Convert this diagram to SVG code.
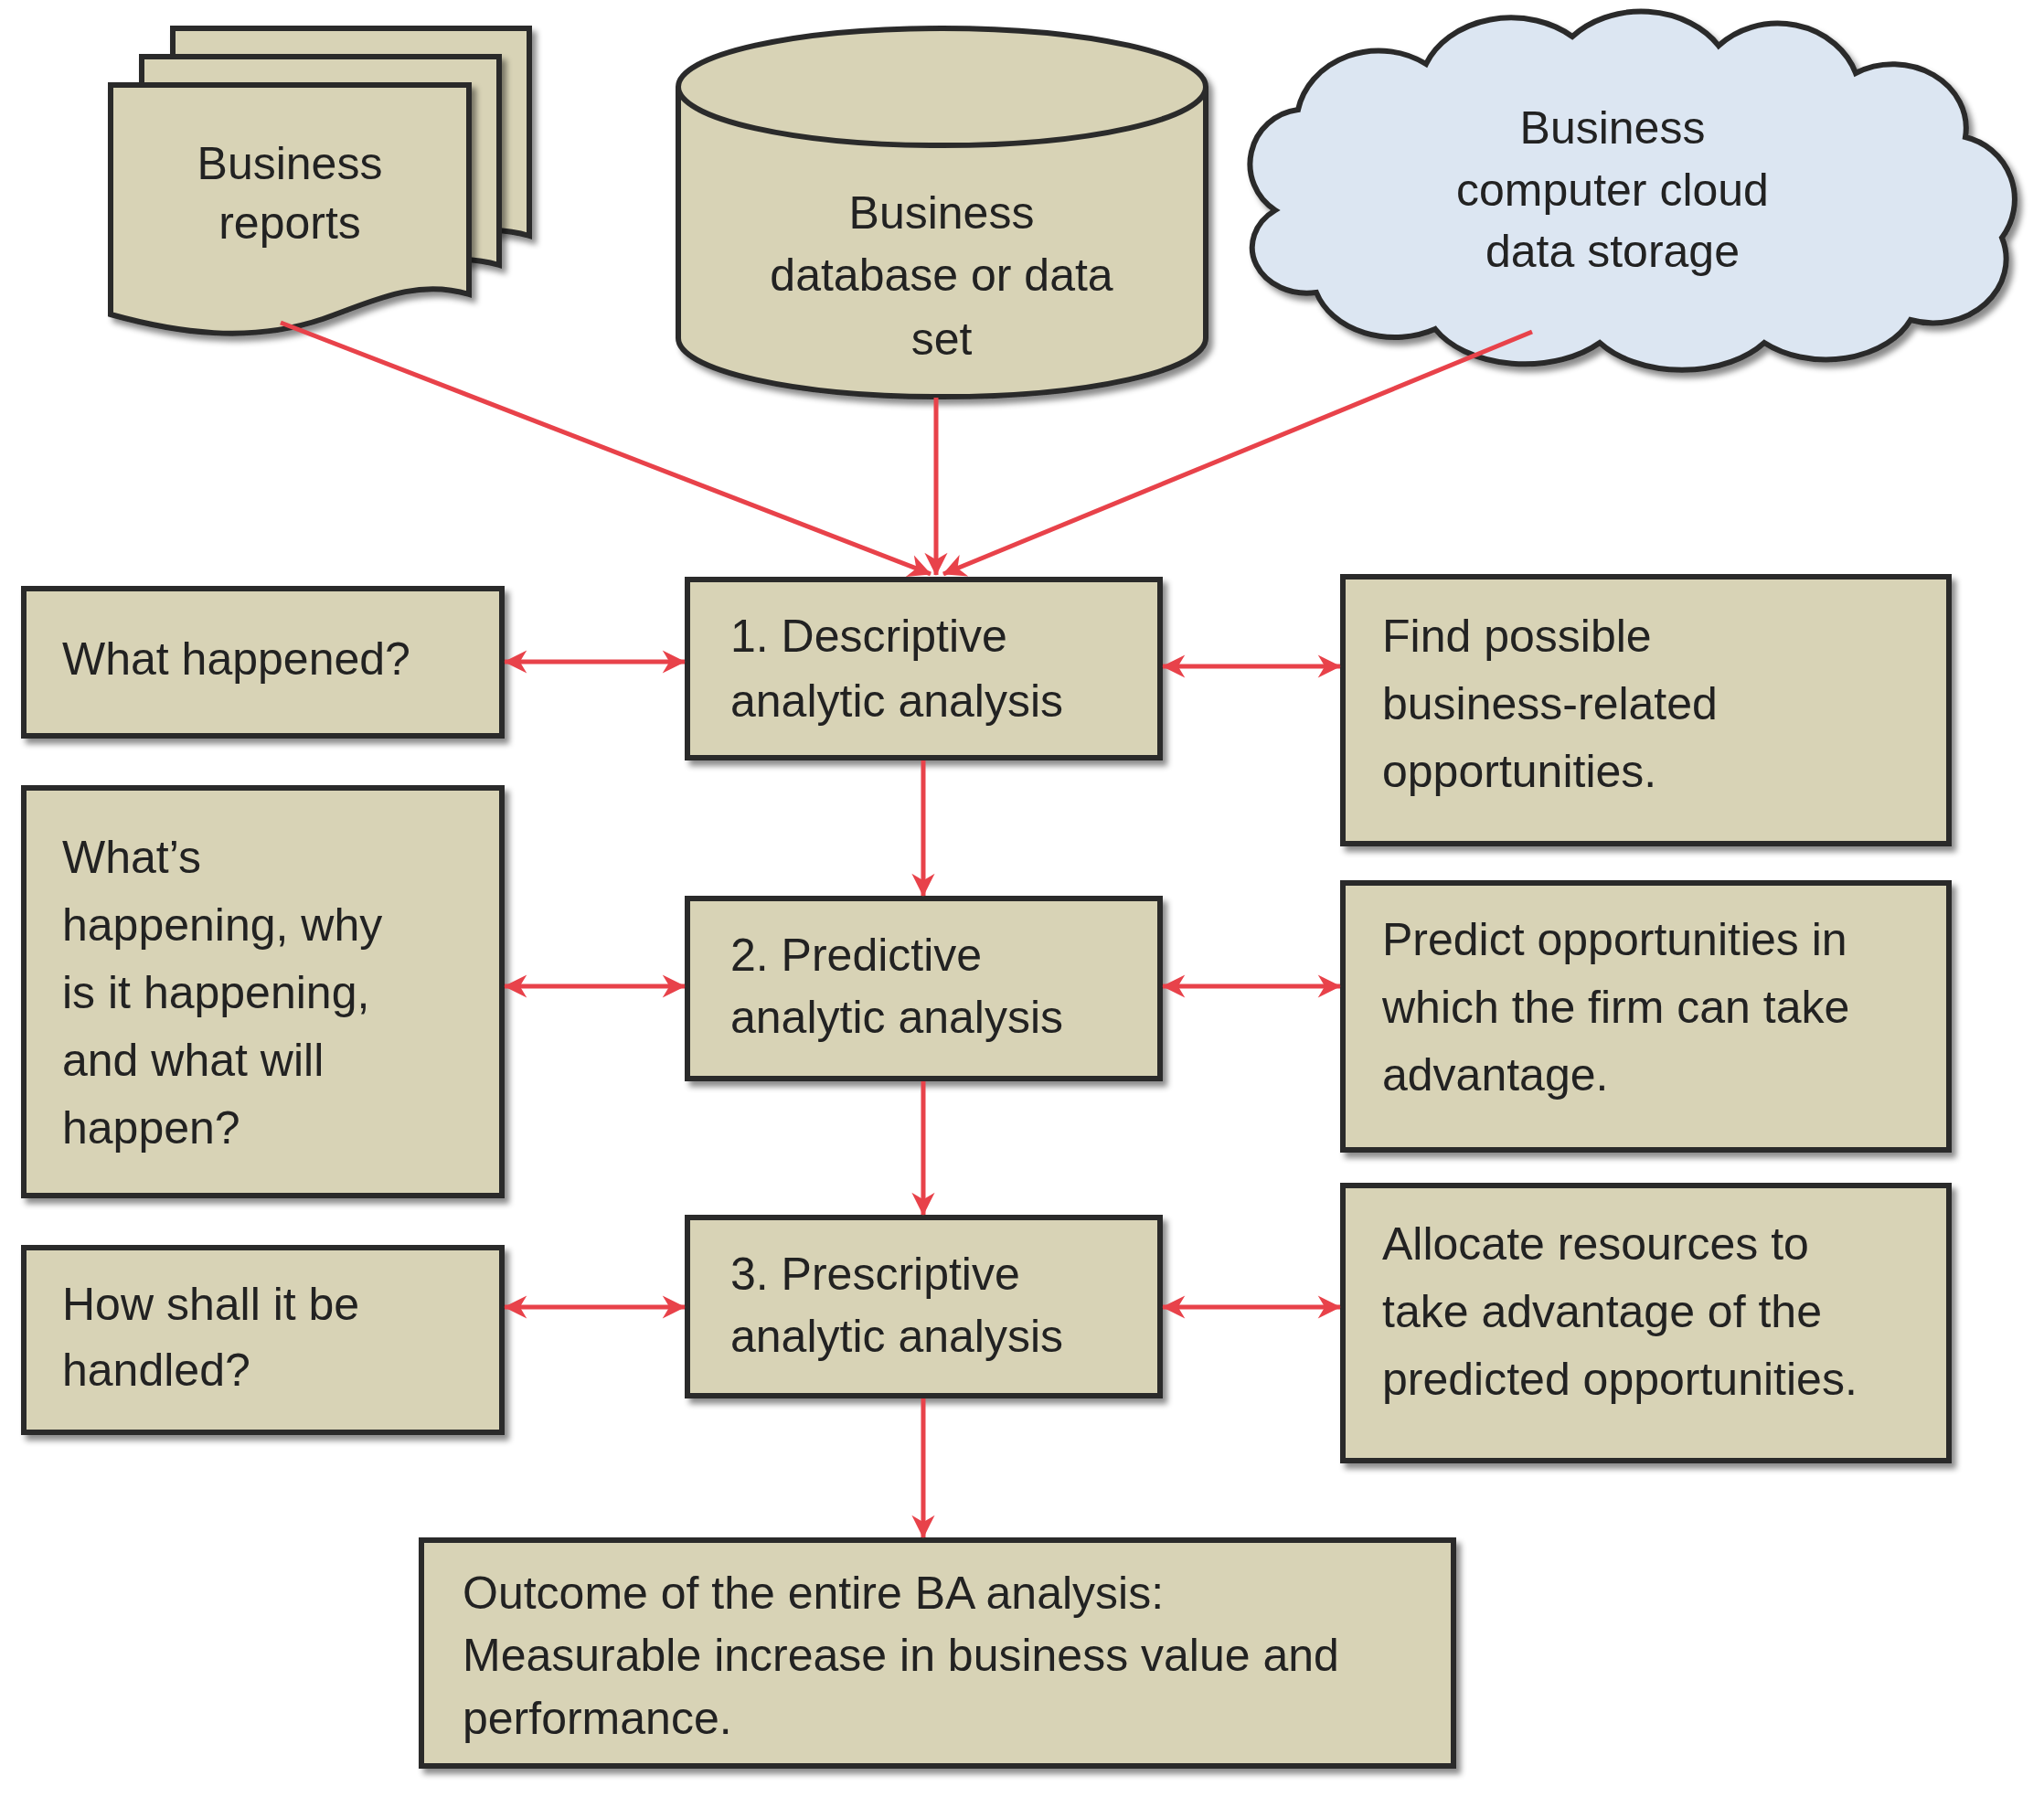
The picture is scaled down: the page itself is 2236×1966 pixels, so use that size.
<svg xmlns="http://www.w3.org/2000/svg" width="2236" height="1966" viewBox="0 0 2236 1966">
<defs>
<style>
.n{fill:#d8d3b6;stroke:#2b2b2b;stroke-width:6;filter:url(#sh)}
.t{font-family:"Liberation Sans",Arial,sans-serif;font-size:50px;fill:#222}
.c{text-anchor:middle}
.e{stroke:#e8424a;stroke-width:5;fill:none;marker-end:url(#a)}
.d{marker-start:url(#a)}
</style>
<filter id="sh" x="-10%" y="-10%" width="130%" height="130%"><feDropShadow dx="5" dy="6" stdDeviation="3" flood-color="#000" flood-opacity="0.45"/></filter>
<marker id="a" viewBox="0 0 10 10" refX="9" refY="5" markerWidth="6" markerHeight="6" orient="auto-start-reverse" markerUnits="userSpaceOnUse" overflow="visible"><path d="M0,0 L10,5 L0,10 L3,5 Z" fill="#e8424a" transform="scale(4.2) translate(-7.5,-3.8)"/></marker>
</defs>
<rect width="2236" height="1966" fill="#fff"/>
<g id="reports">
<path class="n" d="M189,31 H579 V258 C520,240 470,268 420,285 C340,312 260,300 189,280 Z"/>
<path class="n" d="M155,62 H546 V290 C486,272 436,300 386,317 C306,344 226,332 155,312 Z"/>
<path class="n" d="M121,93 H513 V322 C453,304 403,332 353,349 C273,376 193,364 121,344 Z"/>
<text class="t c" x="317" y="196">Business</text><text class="t c" x="317" y="261">reports</text>
</g>
<g id="database">
<path class="n" d="M742,95 V370 A288,64 0 0 0 1319,370 V95 A288,64 0 0 0 742,95 Z"/>
<path d="M742,95 A288,64 0 0 0 1319,95" fill="none" stroke="#2b2b2b" stroke-width="6"/>
<text class="t c" x="1030" y="250">Business</text><text class="t c" x="1030" y="318">database or data</text><text class="t c" x="1030" y="388">set</text>
</g>
<g id="cloud">
<path class="n" style="fill:#dce6f2" d="M1395,230 A60,60 0 0 1 1420,120 A90,80 0 0 1 1560,70 A100,80 0 0 1 1720,40 A100,80 0 0 1 1880,50 A90,80 0 0 1 2030,80 A80,70 0 0 1 2150,150 A70,70 0 0 1 2190,260 A80,70 0 0 1 2090,350 A100,70 0 0 1 1930,375 A110,70 0 0 1 1750,375 A110,70 0 0 1 1570,360 A90,70 0 0 1 1440,320 A60,50 0 0 1 1395,230 Z"/>
<text class="t c" x="1764" y="157">Business</text><text class="t c" x="1764" y="225">computer cloud</text><text class="t c" x="1764" y="292">data storage</text>
</g>
<g id="desc"><rect class="n" x="752" y="634" width="517" height="195"/><text class="t" x="799" y="713">1. Descriptive</text><text class="t" x="799" y="784">analytic analysis</text></g>
<g id="what"><rect class="n" x="26" y="644" width="523" height="161"/><text class="t" x="68" y="738">What happened?</text></g>
<g id="find"><rect class="n" x="1469" y="631" width="663" height="292"/><text class="t" x="1512" y="713">Find possible</text><text class="t" x="1512" y="787">business-related</text><text class="t" x="1512" y="861">opportunities.</text></g>
<g id="pred"><rect class="n" x="752" y="983" width="517" height="197"/><text class="t" x="799" y="1062">2. Predictive</text><text class="t" x="799" y="1130">analytic analysis</text></g>
<g id="whats"><rect class="n" x="26" y="862" width="523" height="446"/><text class="t" x="68" y="955">What’s</text><text class="t" x="68" y="1029">happening, why</text><text class="t" x="68" y="1103">is it happening,</text><text class="t" x="68" y="1177">and what will</text><text class="t" x="68" y="1251">happen?</text></g>
<g id="predopp"><rect class="n" x="1469" y="966" width="663" height="292"/><text class="t" x="1512" y="1045">Predict opportunities in</text><text class="t" x="1512" y="1119">which the firm can take</text><text class="t" x="1512" y="1193">advantage.</text></g>
<g id="presc"><rect class="n" x="752" y="1332" width="517" height="195"/><text class="t" x="799" y="1411">3. Prescriptive</text><text class="t" x="799" y="1479">analytic analysis</text></g>
<g id="how"><rect class="n" x="26" y="1365" width="523" height="202"/><text class="t" x="68" y="1444">How shall it be</text><text class="t" x="68" y="1516">handled?</text></g>
<g id="alloc"><rect class="n" x="1469" y="1297" width="663" height="301"/><text class="t" x="1512" y="1378">Allocate resources to</text><text class="t" x="1512" y="1452">take advantage of the</text><text class="t" x="1512" y="1526">predicted opportunities.</text></g>
<g id="outcome"><rect class="n" x="461" y="1685" width="1129" height="247"/><text class="t" x="506" y="1760">Outcome of the entire BA analysis:</text><text class="t" x="506" y="1828">Measurable increase in business value and</text><text class="t" x="506" y="1897">performance.</text></g>
<g id="connectors">
<line class="e" x1="307" y1="353" x2="1018" y2="628"/>
<line class="e" x1="1024" y1="435" x2="1024" y2="629"/>
<line class="e" x1="1676" y1="363" x2="1032" y2="628"/>
<line class="e d" x1="552" y1="724" x2="749" y2="724"/>
<line class="e d" x1="1272" y1="729" x2="1466" y2="729"/>
<line class="e d" x1="552" y1="1079" x2="749" y2="1079"/>
<line class="e d" x1="1272" y1="1079" x2="1466" y2="1079"/>
<line class="e d" x1="552" y1="1430" x2="749" y2="1430"/>
<line class="e d" x1="1272" y1="1430" x2="1466" y2="1430"/>
<line class="e" x1="1010" y1="832" x2="1010" y2="980"/>
<line class="e" x1="1010" y1="1183" x2="1010" y2="1329"/>
<line class="e" x1="1010" y1="1530" x2="1010" y2="1682"/>
</g>
</svg>
